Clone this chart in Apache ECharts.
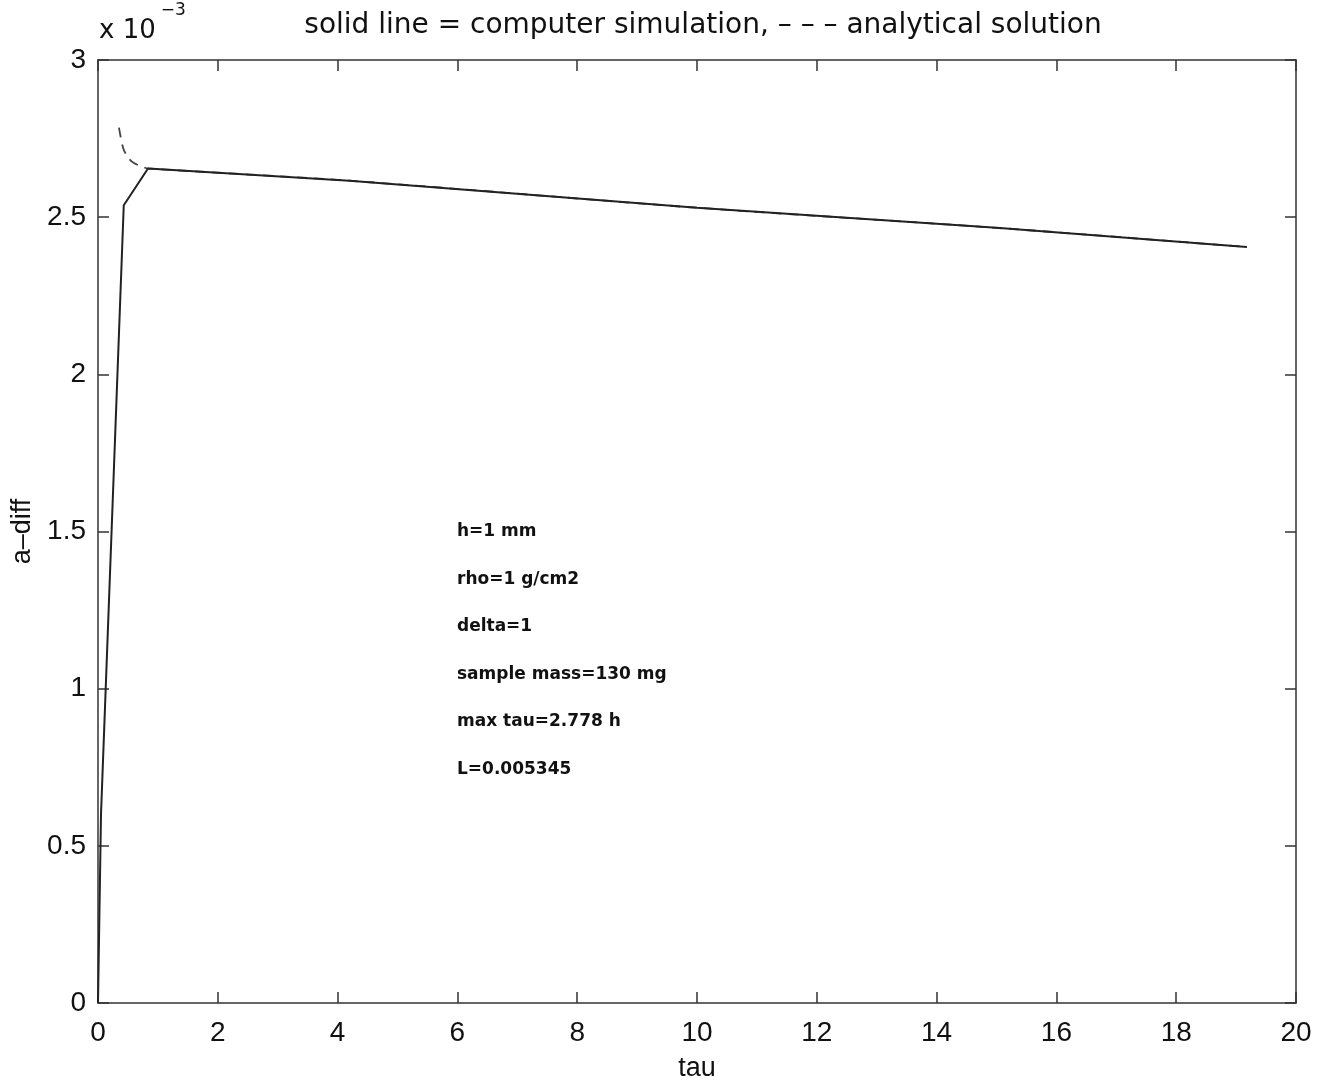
<!DOCTYPE html>
<html>
<head>
<meta charset="utf-8">
<script src="https://cdn.jsdelivr.net/npm/echarts@6/dist/echarts.min.js"></script>
<style>
  html, body { margin: 0; padding: 0; background: #fff; }
  #chart { width: 1324px; height: 1087px; }
</style>
</head>
<body>
<div id="chart"></div>
<script>
// tau values and a-diff (in units of 1e-3)
const simTau = [0, 0.05, 0.43, 0.835, 4.2, 10, 15, 19.18]
const simVal = [0, 0.6, 2.538, 2.655, 2.616, 2.53, 2.466, 2.405]
const anaTau = [0.35, 0.42, 0.5, 0.6, 0.72, 0.835, 4.2, 10, 15, 19.18]
const anaVal = [2.785, 2.72, 2.69, 2.672, 2.662, 2.655, 2.616, 2.53, 2.466, 2.405]
const notes = ['h=1 mm', 'rho=1 g/cm2', 'delta=1', 'sample mass=130 mg', 'max tau=2.778 h', 'L=0.005345']

const FONT = 'Liberation Sans, Arial, sans-serif'
const WIDE = 'DejaVu Sans, sans-serif'
const pair = (xs, ys) => xs.map((x, i) => [x, ys[i]])

const chart = echarts.init(document.getElementById('chart'))

// MATLAB-style box: lines on all four sides, ticks pointing inward
const boxAxis = {
  axisLine: { show: true, onZero: false, lineStyle: { color: '#333', width: 1.5 } },
  axisTick: { show: true, inside: true, length: 11, lineStyle: { color: '#333', width: 1.5 } },
  splitLine: { show: false }
}

chart.setOption({
  backgroundColor: '#fff',
  animation: false,
  title: {
    text: 'solid line = computer simulation, \u2013 \u2013 \u2013 analytical solution',
    left: 698,
    top: 7,
    textAlign: 'center',
    textStyle: { fontFamily: WIDE, fontSize: 28, fontWeight: 'normal', color: '#111' }
  },
  grid: { left: 98, right: 28, top: 60, bottom: 84 },
  xAxis: [
    {
      type: 'value', min: 0, max: 20, interval: 2,
      name: 'tau', nameLocation: 'middle', nameGap: 52,
      nameTextStyle: { fontFamily: FONT, fontSize: 27, color: '#111' },
      axisLabel: { fontFamily: FONT, fontSize: 28, color: '#111', margin: 16 },
      ...boxAxis
    },
    {
      type: 'value', min: 0, max: 20, interval: 2, position: 'top',
      axisLabel: { show: false },
      ...boxAxis
    }
  ],
  yAxis: [
    {
      type: 'value', min: 0, max: 3, interval: 0.5,
      name: 'a\u2013diff', nameLocation: 'middle', nameGap: 58,
      nameTextStyle: { fontFamily: FONT, fontSize: 27, color: '#111' },
      axisLabel: { fontFamily: FONT, fontSize: 28, color: '#111', margin: 12 },
      ...boxAxis
    },
    {
      type: 'value', min: 0, max: 3, interval: 0.5, position: 'right',
      axisLabel: { show: false },
      ...boxAxis
    }
  ],
  series: [
    {
      name: 'simulation', type: 'line', data: pair(simTau, simVal),
      showSymbol: false, symbol: 'none',
      lineStyle: { color: '#222', width: 2, type: 'solid' },
      z: 3
    },
    {
      name: 'analytical', type: 'line', data: pair(anaTau, anaVal),
      showSymbol: false, symbol: 'none', smooth: 0.3,
      lineStyle: { color: '#444', width: 1.8, type: [10, 7] },
      z: 2
    }
  ],
  graphic: [
    {
      type: 'text', left: 99, top: 2,
      style: {
        text: '{b|x 10}{s|\u22123}',
        rich: {
          b: { fontFamily: WIDE, fontSize: 26, fill: '#111', padding: [16, 0, 0, 0] },
          s: { fontFamily: WIDE, fontSize: 17, fill: '#111', verticalAlign: 'top', padding: [0, 0, 16, 5] }
        }
      }
    },
    ...notes.map((t, i) => ({
      type: 'text', left: 457, top: 523 + i * 47.6,
      style: { text: t, fontFamily: WIDE, fontSize: 17, fontWeight: 'bold', fill: '#111' }
    }))
  ]
})
</script>
</body>
</html>
